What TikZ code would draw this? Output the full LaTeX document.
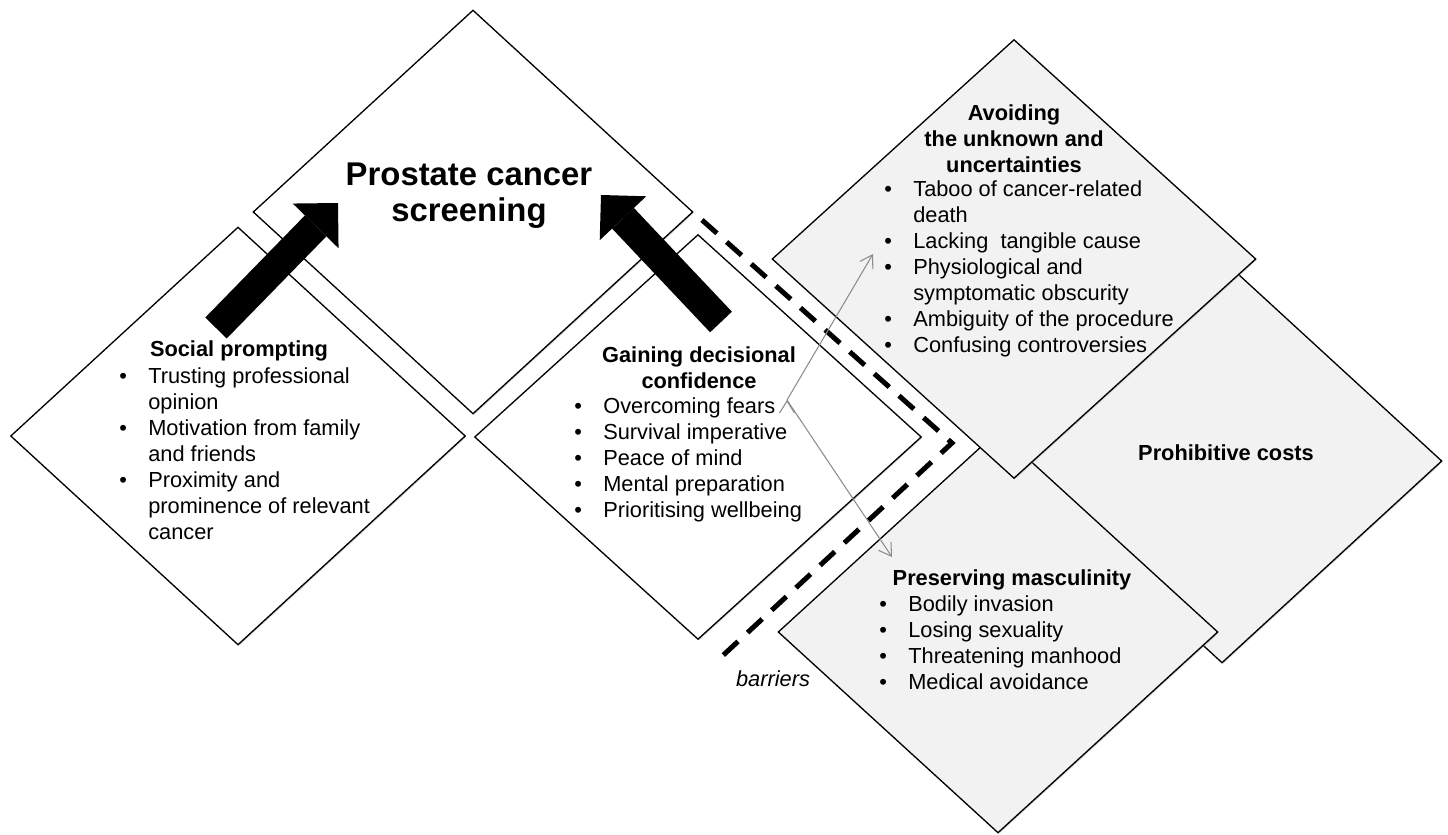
\documentclass[tikz,border=0pt]{standalone}
\usepackage{fontspec}
\setmainfont{Liberation Sans}
\usetikzlibrary{shapes.geometric,arrows.meta,shadows}

\definecolor{barriergray}{HTML}{F2F2F2}
\newcommand{\itm}{\makebox[0.58cm][l]{\textbullet}}
\newcommand{\cnt}{\hspace*{0.58cm}}

\begin{document}
\begin{tikzpicture}[x=0.02cm,y=-0.02cm,
    theme node/.style={diamond,draw,line width=0.75pt,inner sep=0pt,fill=white,
      drop shadow={shadow xshift=0.6pt,shadow yshift=-0.6pt,fill=black!35}},
    barrier node/.style={theme node,fill=barriergray},
    head text/.style={font=\fontsize{12.4}{14.8}\selectfont\bfseries,align=center,anchor=north,inner sep=0pt},
    list text/.style={font=\fontsize{12.4}{14.8}\selectfont,align=left,anchor=north west,inner sep=0pt},
    big arrow/.style={line width=0.6cm,-{Triangle[length=0.64cm,width=1.28cm,line width=0pt]}},
    barrier line/.style={line width=0.1cm,dash pattern=on 0.4cm off 0.26cm},
    cue arrow/.style={draw=black!45,line width=0.6pt,-{Straight Barb[length=0.24cm,width=0.3cm]}}]

  \useasboundingbox (0,0) rectangle (1448,835);

  % facilitators
  \node[theme node,minimum width=8.8cm,minimum height=8.08cm] (screening) at (473,212) {};
  \node[theme node,minimum width=9.1cm,minimum height=8.36cm] (social) at (238,436) {};
  \node[theme node,minimum width=8.94cm,minimum height=8.1cm] (confidence) at (698,437) {};

  % barriers
  \node[barrier node,minimum width=8.8cm,minimum height=8.08cm] (costs) at (1222,461) {};
  \node[barrier node,minimum width=8.8cm,minimum height=8.04cm] (masculinity) at (998,632) {};
  \node[barrier node,minimum width=9.68cm,minimum height=8.78cm] (unknown) at (1014,259) {};

  \node[font=\fontsize{18.7}{20.4}\selectfont\bfseries,align=center,anchor=north,inner sep=0pt]
    (screening-text) at (469,163) {Prostate cancer\\screening};

  \node[head text] (social-head) at (239,340) {Social prompting};
  \node[list text] (social-list) at (119,367) {\itm Trusting professional\\
    \cnt opinion\\
    \itm Motivation from family\\
    \cnt and friends\\
    \itm Proximity and\\
    \cnt prominence of relevant\\
    \cnt cancer};

  \node[head text] (confidence-head) at (699,346) {Gaining decisional\\confidence};
  \node[list text] (confidence-list) at (574,397) {\itm Overcoming fears\\
    \itm Survival imperative\\
    \itm Peace of mind\\
    \itm Mental preparation\\
    \itm Prioritising wellbeing};

  \node[head text] (unknown-head) at (1014,104) {Avoiding\\the unknown and\\uncertainties};
  \node[list text] (unknown-list) at (884,180) {\itm Taboo of cancer-related\\
    \cnt death\\
    \itm Lacking~ tangible cause\\
    \itm Physiological and\\
    \cnt symptomatic obscurity\\
    \itm Ambiguity of the procedure\\
    \itm Confusing controversies};

  \node[head text] (masculinity-head) at (1012,569) {Preserving masculinity};
  \node[list text] (masculinity-list) at (879,595) {\itm Bodily invasion\\
    \itm Losing sexuality\\
    \itm Threatening manhood\\
    \itm Medical avoidance};

  \node[font=\fontsize{12.4}{14.8}\selectfont\bfseries,anchor=base] (costs-text) at (1226,460) {Prohibitive costs};
  \node[font=\fontsize{12.4}{14.8}\selectfont\itshape,anchor=base] (barriers-text) at (773,686) {barriers};

  % arrows into screening
  \coordinate (social-tail) at (216,328);
  \coordinate (social-tip) at (338,203);
  \coordinate (confidence-tail) at (721,322);
  \coordinate (confidence-tip) at (601,195);
  \draw[big arrow] (social-tail) -- (social-tip);
  \draw[big arrow] (confidence-tail) -- (confidence-tip);

  % barrier border
  \coordinate (bar-start) at (702,220);
  \coordinate (bar-corner) at (952,443);
  \coordinate (bar-end) at (718,660);
  \draw[barrier line] (bar-start) -- (bar-corner) -- (bar-end);

  \coordinate (fork) at (787,400);
  \coordinate (to-unknown) at (873,254);
  \coordinate (to-masculinity) at (892,557);
  \path[cue arrow] (fork) edge (to-unknown)
                          edge (to-masculinity);

\end{tikzpicture}
\end{document}
